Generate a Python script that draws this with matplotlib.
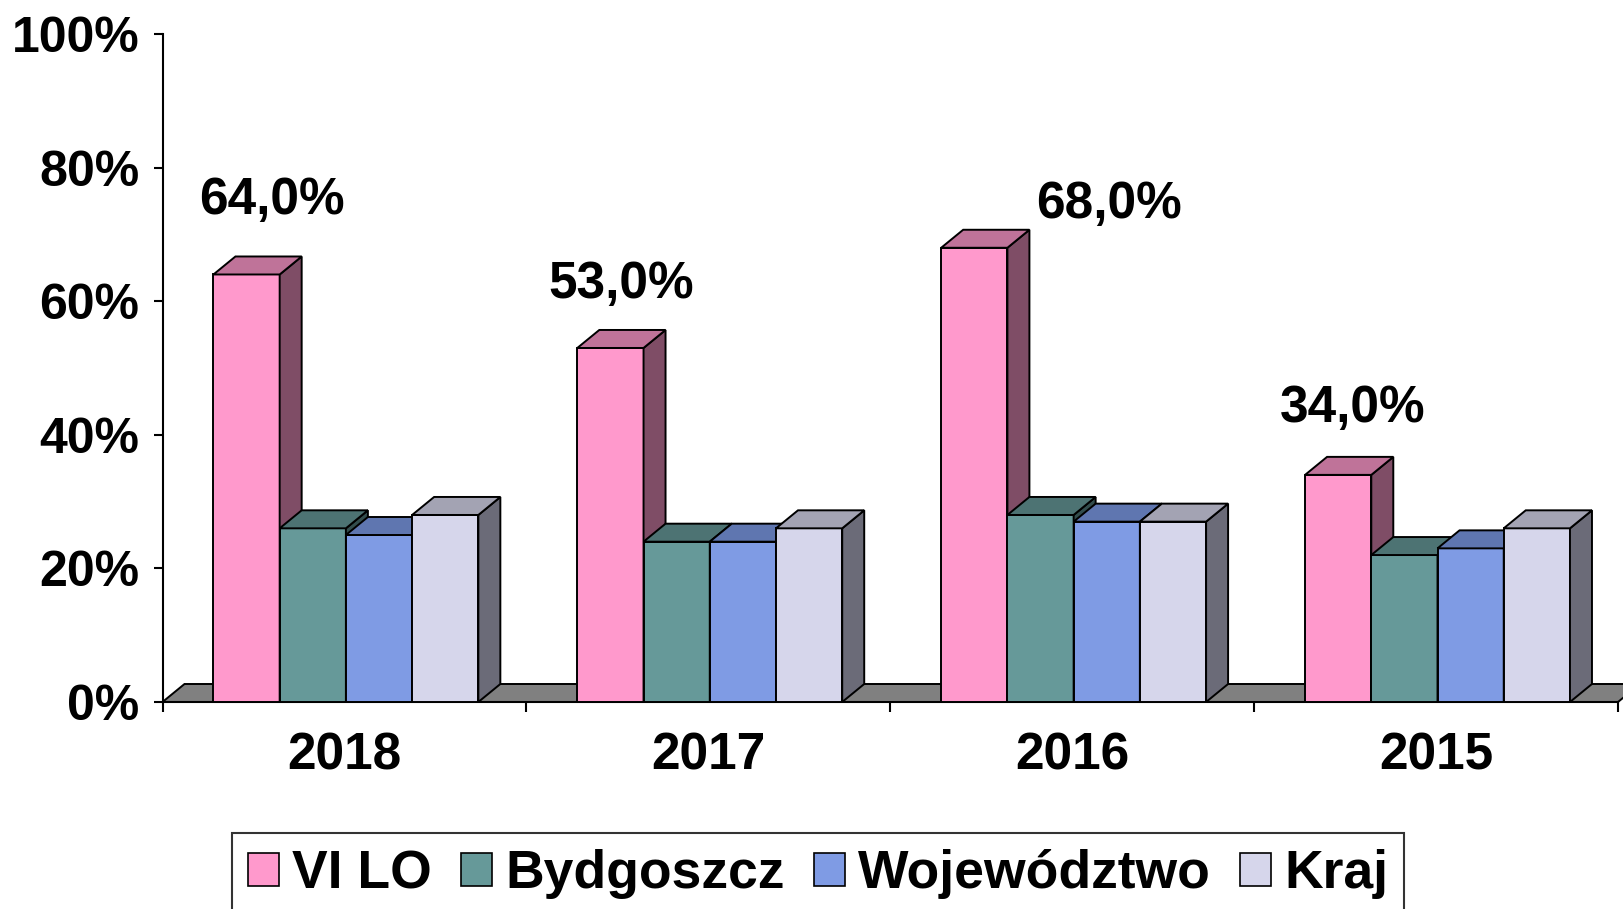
import matplotlib.pyplot as plt
from matplotlib.patches import Patch

plt.rcParams['font.family'] = ['Liberation Sans', 'DejaVu Sans']
plt.rcParams['font.weight'] = 'bold'

# dane
years = ['2018', '2017', '2016', '2015']
series = ['VI LO', 'Bydgoszcz', 'Województwo', 'Kraj']
vi_lo = [64.0, 53.0, 68.0, 34.0]
bydgoszcz = [26, 24, 28, 22]
wojewodztwo = [25, 24, 27, 23]
kraj = [28, 26, 27, 26]
values = [vi_lo, bydgoszcz, wojewodztwo, kraj]

# kolory: przod, gora, bok
front = ['#FF99CC', '#669999', '#7F9BE4', '#D6D6EB']
top = ['#BF7399', '#4D7373', '#5F76B0', '#A3A3B3']
side = ['#7F4D66', '#334D4D', '#405080', '#6B6B78']

# przesuniecia etykiet (wzgledem kategorii / wartosci)
lbl_dx = [0.30, 0.26, 0.60, 0.27]
lbl_dy = [11.0, 9.5, 6.5, 10.0]

W, H = 1623, 909
fig = plt.figure(figsize=(W / 100, H / 100), dpi=100)
x0, x1, y0, y1 = 162.5, 1618, 702, 34
ax = fig.add_axes([x0 / W, 1 - y0 / H, (x1 - x0) / W, (y0 - y1) / H])
ax.set_xlim(0, 4)
ax.set_ylim(0, 100)

# glebokosc 3D w jednostkach danych
dx = 22 / ((x1 - x0) / 4)
dy = 18 / ((y0 - y1) / 100)

bw = 0.182
start = 0.14
lw = 1.4

# podloga
ax.fill([0, 4, 4 + dx, dx], [0, 0, dy, dy], facecolor='#808080',
        edgecolor='black', lw=lw, zorder=2, clip_on=False)

for s in range(len(series)):
    xs = [i + start + s * bw for i in range(len(years))]
    ax.bar(xs, values[s], width=bw, align='edge', color=front[s],
           edgecolor='black', linewidth=lw, zorder=10 + 3 * s)
    for i in range(len(years)):
        xl = xs[i]
        xr = xl + bw
        v = values[s][i]
        ax.fill([xr, xr + dx, xr + dx, xr], [0, dy, v + dy, v],
                facecolor=side[s], edgecolor='black', lw=lw,
                zorder=11 + 3 * s, clip_on=False)
        ax.fill([xl, xr, xr + dx, xl + dx], [v, v, v + dy, v + dy],
                facecolor=top[s], edgecolor='black', lw=lw,
                zorder=12 + 3 * s, clip_on=False)

for i in range(len(years)):
    ax.text(i + lbl_dx[i], vi_lo[i] + lbl_dy[i],
            ('%.1f%%' % vi_lo[i]).replace('.', ','),
            ha='center', va='center', fontsize=37, fontweight='bold', zorder=30)

# osie
for sp in ['top', 'right']:
    ax.spines[sp].set_visible(False)
ax.spines['left'].set_linewidth(1.5)
ax.spines['bottom'].set_linewidth(1.5)
ax.spines['bottom'].set_zorder(5)

ax.set_yticks(range(0, 101, 20))
ax.set_yticklabels(['%d%%' % t for t in range(0, 101, 20)])
ax.tick_params(axis='y', length=6.5, width=1.5, pad=10, labelsize=36)

ax.set_xticks(range(5))
ax.set_xticklabels([])
ax.set_xticks([i + 0.5 for i in range(len(years))], minor=True)
ax.set_xticklabels(years, minor=True)
ax.tick_params(axis='x', which='major', length=7.5, width=1.5)
ax.tick_params(axis='x', which='minor', length=0, pad=21, labelsize=37)

handles = [Patch(facecolor=front[s], edgecolor='black', linewidth=1.2)
           for s in range(len(series))]
leg = fig.legend(handles, series, loc='upper left',
                 bbox_to_anchor=(232 / W, 1 - 833 / H), ncol=4,
                 prop={'size': 38.5, 'weight': 'bold'},
                 frameon=True, fancybox=False, edgecolor='black',
                 borderpad=0.3, borderaxespad=0, handlelength=0.58,
                 handleheight=0.58, handletextpad=0.25, columnspacing=0.54)
leg.get_frame().set_linewidth(1.5)

fig.savefig('out.png', dpi=100)
